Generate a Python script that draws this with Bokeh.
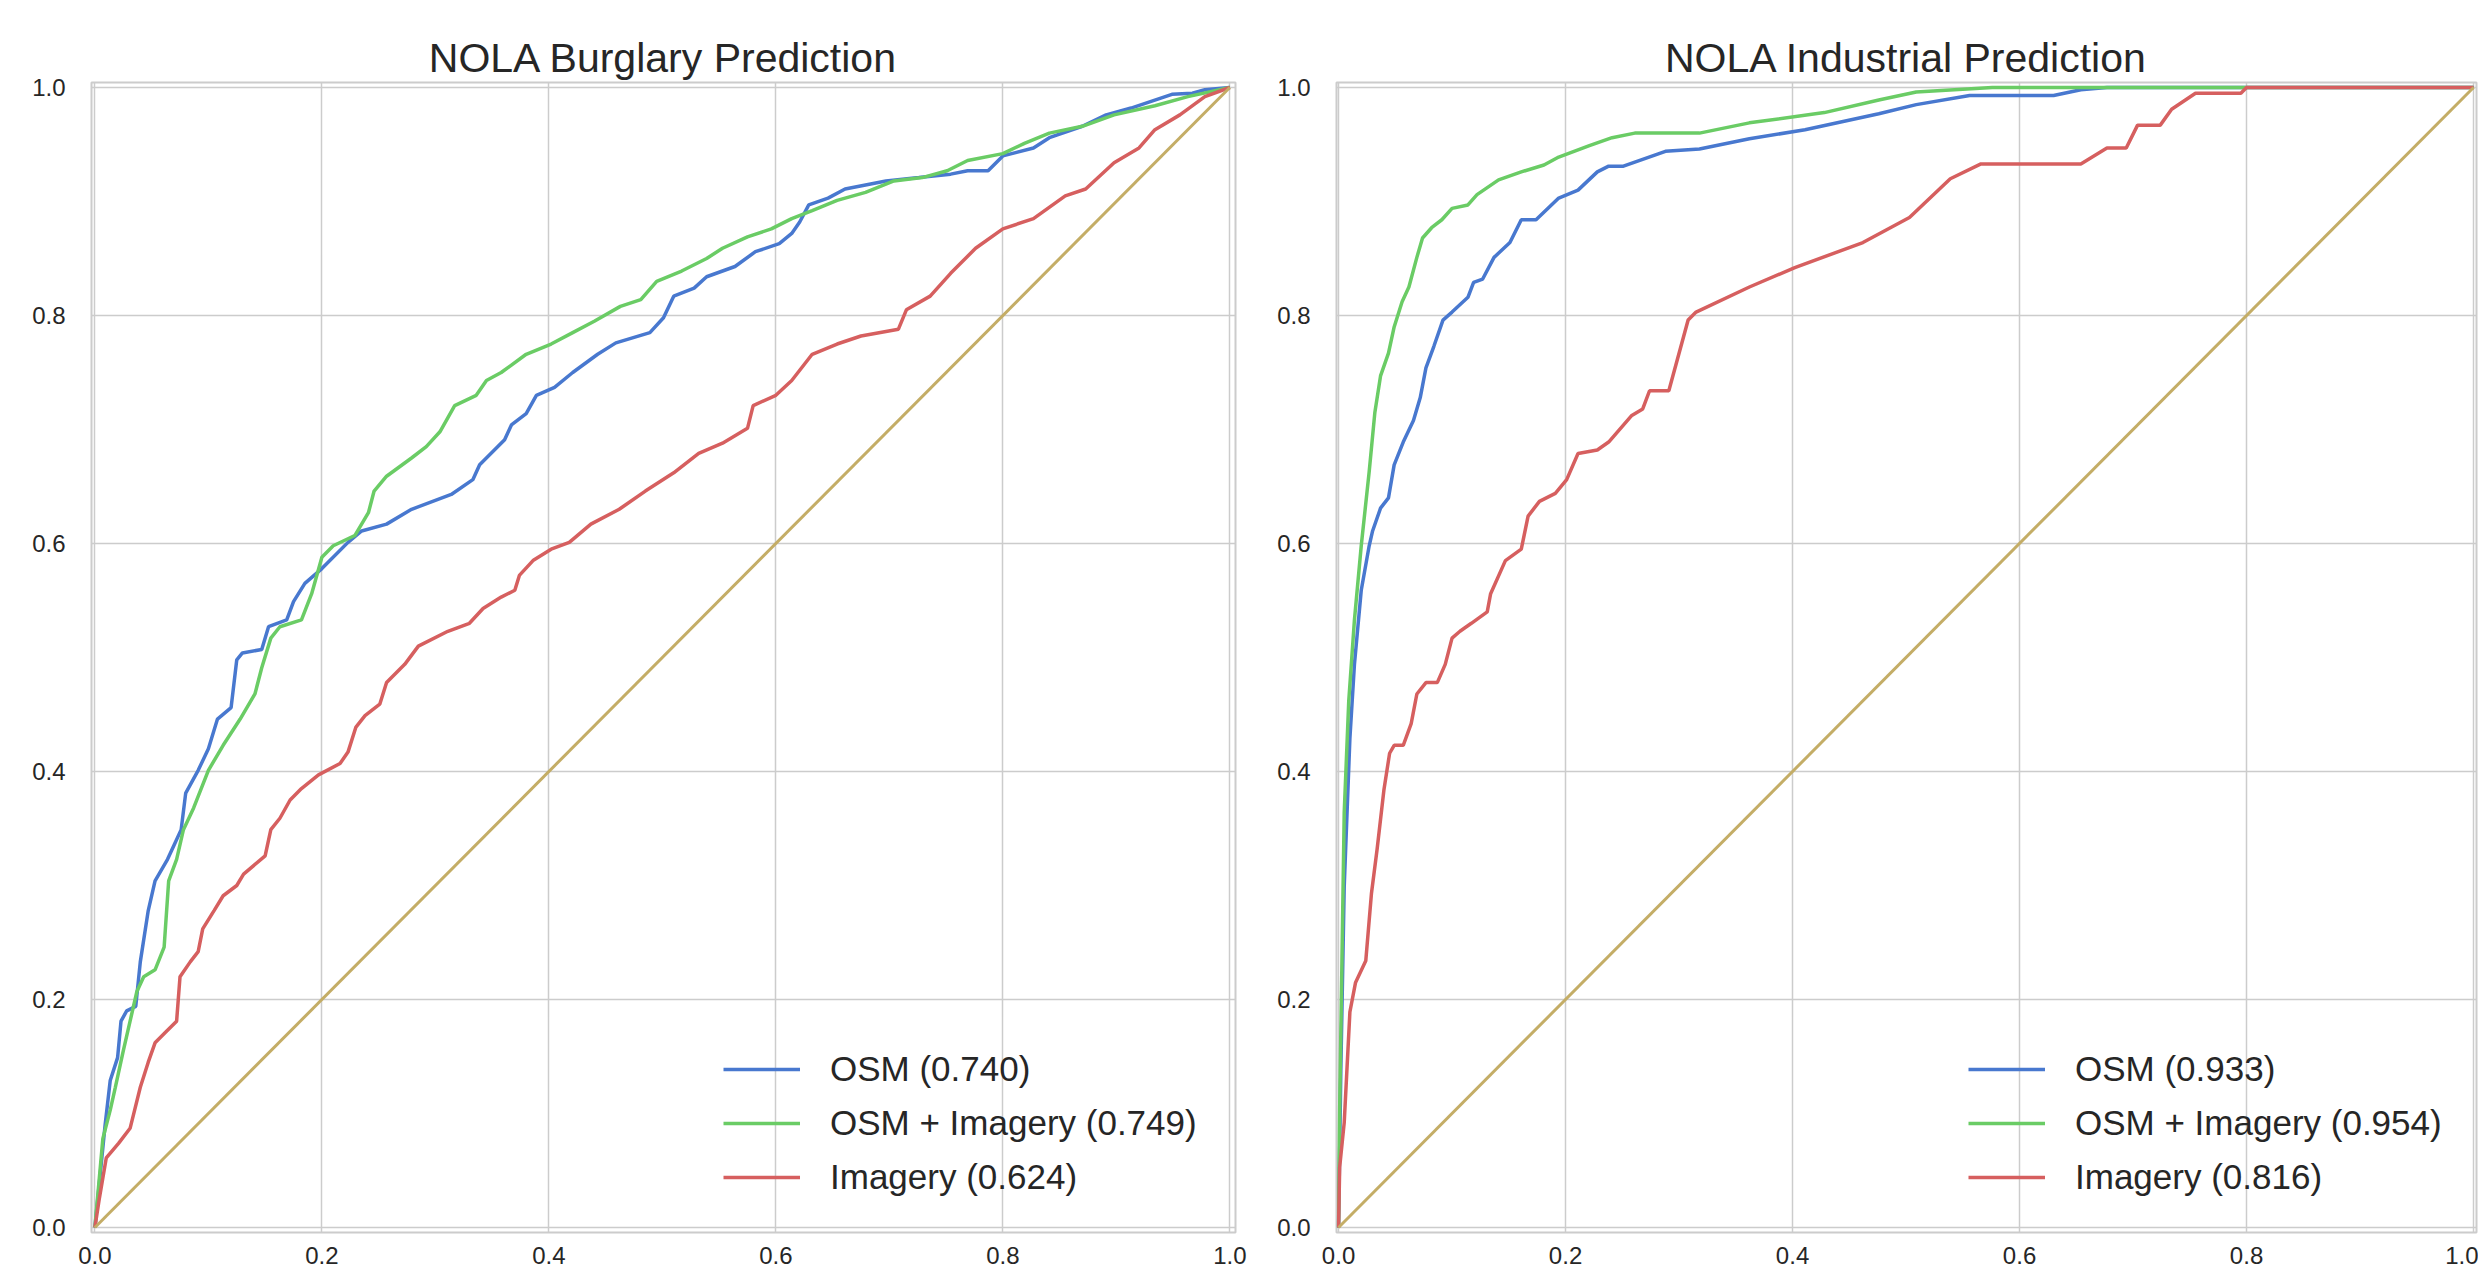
from bokeh.plotting import figure
from bokeh.models import Range1d, Legend, LegendItem, PrintfTickFormatter
from bokeh.layouts import row
from bokeh.embed import file_html
from bokeh.resources import INLINE

# ---------------- data ----------------
TICKS = [0.0, 0.2, 0.4, 0.6, 0.8, 1.0]
TICK_LABELS = ["0.0", "0.2", "0.4", "0.6", "0.8", "1.0"]
SERIES_NAMES = ["OSM", "OSM + Imagery", "Imagery"]
TITLES = ["NOLA Burglary Prediction", "NOLA Industrial Prediction"]

BURGLARY_AUC = [0.740, 0.749, 0.624]
INDUSTRIAL_AUC = [0.933, 0.954, 0.816]

# NOLA Burglary - OSM
burg_osm_fpr = [0, .009, .0135, .02, .023, .028, .036, .040, .047, .053, .064, .070, .076, .080, .091, .10, .108, .12,
                .125, .13, .147, .153, .169, .175, .185, .20, .223, .235, .257, .279, .314, .333, .339, .361, .367, .38,
                .389, .405, .421, .443, .459, .489, .501, .51, .528, .539, .564, .582, .603, .614, .621, .629, .646,
                .661, .697, .726, .754, .769, .787, .80, .827, .841, .87, .891, .913, .949, .967, .978, 1.0]
burg_osm_tpr = [0, .09, .129, .149, .181, .19, .194, .233, .278, .304, .323, .336, .349, .381, .401, .42, .446, .456,
                .498, .504, .507, .527, .533, .549, .565, .578, .601, .611, .617, .63, .643, .656, .669, .691, .704,
                .714, .73, .737, .75, .766, .776, .785, .798, .817, .824, .834, .843, .856, .863, .872, .882, .897,
                .903, .911, .918, .921, .924, .927, .927, .94, .947, .956, .966, .976, .982, .994, .995, .998, 1.0]

# NOLA Burglary - OSM + Imagery
burg_both_fpr = [0, .007, .0135, .018, .025, .031, .037, .043, .053, .061, .065, .072, .078, .087, .10, .113, .128,
                 .141, .147, .155, .163, .182, .191, .20, .21, .229, .241, .246, .257, .279, .292, .304, .317, .336,
                 .345, .358, .38, .402, .421, .44, .463, .481, .495, .517, .539, .553, .575, .596, .614, .632, .654,
                 .679, .704, .729, .751, .769, .80, .819, .841, .87, .898, .934, .963, 1.0]
burg_both_tpr = [0, .078, .103, .123, .155, .181, .207, .22, .226, .246, .304, .323, .349, .368, .401, .423, .446,
                 .468, .491, .517, .527, .533, .556, .588, .598, .607, .627, .646, .659, .675, .685, .698, .721, .73,
                 .743, .75, .766, .775, .785, .795, .808, .814, .83, .839, .85, .859, .869, .876, .885, .892, .901,
                 .908, .918, .921, .927, .936, .942, .951, .96, .966, .976, .984, .992, 1.0]

# NOLA Burglary - Imagery
burg_img_fpr = [0, .004, .010, .021, .031, .035, .040, .047, .053, .062, .072, .075, .084, .091, .095, .105, .113, .125,
                .131, .15, .155, .163, .172, .182, .197, .216, .223, .23, .238, .251, .257, .273, .285, .311, .33,
                .342, .358, .37, .374, .386, .402, .418, .437, .462, .485, .51, .532, .553, .575, .58, .60, .614, .632,
                .654, .675, .708, .715, .736, .754, .776, .80, .827, .855, .873, .898, .92, .934, .956, .978, 1.0]
burg_img_tpr = [0, .026, .061, .074, .087, .103, .123, .145, .162, .171, .181, .22, .233, .242, .262, .278, .291, .30,
                .31, .326, .349, .359, .375, .385, .397, .407, .417, .439, .449, .459, .478, .494, .51, .523, .53,
                .543, .553, .559, .572, .585, .595, .601, .617, .63, .646, .662, .679, .688, .701, .721, .73, .743,
                .766, .775, .782, .788, .805, .817, .837, .859, .876, .885, .905, .911, .934, .947, .963, .976, .992,
                1.0]

# NOLA Industrial - OSM
ind_osm_fpr = [0, .002, .005, .01, .014, .02, .027, .030, .037, .044, .049, .057, .066, .072, .077, .084, .092, .10,
               .114, .119, .127, .137, .151, .161, .174, .194, .211, .228, .238, .251, .288, .318, .362, .411, .476,
               .509, .556, .63, .654, .677, 1.0]
ind_osm_tpr = [0, .137, .299, .429, .494, .559, .598, .611, .631, .64, .669, .689, .708, .728, .754, .773, .796, .803,
               .816, .829, .832, .851, .864, .884, .884, .903, .91, .926, .931, .931, .944, .946, .955, .963, .977,
               .985, .993, .993, .998, 1.0, 1.0]

# NOLA Industrial - OSM + Imagery
ind_both_fpr = [0, .001, .003, .005, .009, .014, .02, .027, .032, .037, .044, .049, .056, .062, .069, .074, .082, .091,
                .10, .114, .122, .141, .161, .181, .194, .221, .241, .261, .318, .362, .428, .476, .509, .576, 1.0]
ind_both_tpr = [0, .105, .234, .364, .462, .533, .598, .663, .715, .747, .767, .79, .812, .825, .851, .868, .877, .884,
                .894, .897, .906, .919, .926, .932, .939, .949, .956, .96, .96, .969, .978, .989, .996, 1.0, 1.0]

# NOLA Industrial - Imagery
ind_img_fpr = [0, .001, .005, .01, .015, .024, .029, .034, .04, .045, .049, .057, .064, .069, .077, .087, .094, .10,
               .107, .117, .131, .134, .147, .161, .167, .177, .191, .201, .211, .228, .238, .258, .268, .274, .291,
               .308, .315, .362, .402, .462, .503, .539, .566, .654, .677, .694, .704, .724, .734, .755, .795, .80, 1.0]
ind_img_tpr = [0, .053, .092, .189, .215, .234, .293, .332, .384, .416, .423, .423, .442, .468, .478, .478, .494, .517,
               .523, .53, .54, .556, .585, .595, .624, .637, .644, .656, .679, .682, .689, .712, .718, .734, .734,
               .796, .803, .825, .842, .864, .886, .92, .933, .933, .947, .947, .967, .967, .981, .995, .995, 1.0, 1.0]

CHANCE_X = [0.0, 1.0]
CHANCE_Y = [0.0, 1.0]

# ---------------- style ----------------
COLORS = ["#4878CF", "#6ACC65", "#D65F5F"]
CHANCE_COLOR = "#C4AD66"
TEXT_COLOR = "#262626"
GRID_COLOR = "#cccccc"
FONT = "Liberation Sans"
HEIGHT = 1270


def make_panel(title, series, aucs, width, border_left, border_right, x_range):
    p = figure(width=width, height=HEIGHT, output_backend="svg", toolbar_location=None,
               x_range=Range1d(*x_range), y_range=Range1d(-0.0044, 1.0044),
               min_border_left=border_left, min_border_right=border_right,
               min_border_top=82, min_border_bottom=38,
               background_fill_color="white", border_fill_color="white")
    p.title.text = title
    p.title.text_font = FONT
    p.title.text_font_size = "41px"
    p.title.text_font_style = "normal"
    p.title.text_color = TEXT_COLOR
    p.title.align = "center"
    p.title.standoff = 4

    p.outline_line_color = GRID_COLOR
    p.outline_line_width = 2
    p.grid.grid_line_color = GRID_COLOR
    p.grid.grid_line_width = 1.5

    overrides = {t: lab for t, lab in zip(TICKS, TICK_LABELS)}
    for ax in (p.xaxis, p.yaxis):
        ax.ticker = TICKS
        ax.formatter = PrintfTickFormatter(format="%.1f")
        ax.major_label_overrides = overrides
        ax.axis_line_color = None
        ax.major_tick_line_color = None
        ax.minor_tick_line_color = None
        ax.major_label_text_font = FONT
        ax.major_label_text_font_size = "24px"
        ax.major_label_text_color = TEXT_COLOR
    p.xaxis.major_label_standoff = 8
    p.yaxis.major_label_standoff = 20

    items = []
    for name, auc, (xs, ys), color in zip(SERIES_NAMES, aucs, series, COLORS):
        r = p.line(xs, ys, line_color=color, line_width=3.5)
        items.append(LegendItem(label=f"{name} ({auc:.3f})", renderers=[r]))
    p.line(CHANCE_X, CHANCE_Y, line_color=CHANCE_COLOR, line_width=3)

    legend = Legend(items=items, location=(632, 34), border_line_color=None,
                    background_fill_alpha=0, padding=0, margin=0, spacing=12,
                    label_height=42, glyph_height=42, glyph_width=77, label_standoff=30,
                    label_text_font=FONT, label_text_font_size="35px", label_text_color=TEXT_COLOR)
    p.add_layout(legend)
    return p


left = make_panel(TITLES[0],
                  [(burg_osm_fpr, burg_osm_tpr), (burg_both_fpr, burg_both_tpr), (burg_img_fpr, burg_img_tpr)],
                  BURGLARY_AUC, 1253, 91, 18, (-0.003, 1.005))
right = make_panel(TITLES[1],
                   [(ind_osm_fpr, ind_osm_tpr), (ind_both_fpr, ind_both_tpr), (ind_img_fpr, ind_img_tpr)],
                   INDUSTRIAL_AUC, 1225, 83, 2, (-0.0018, 1.0026))

layout = row(left, right)
open("out.html", "w").write(file_html(layout, INLINE))
